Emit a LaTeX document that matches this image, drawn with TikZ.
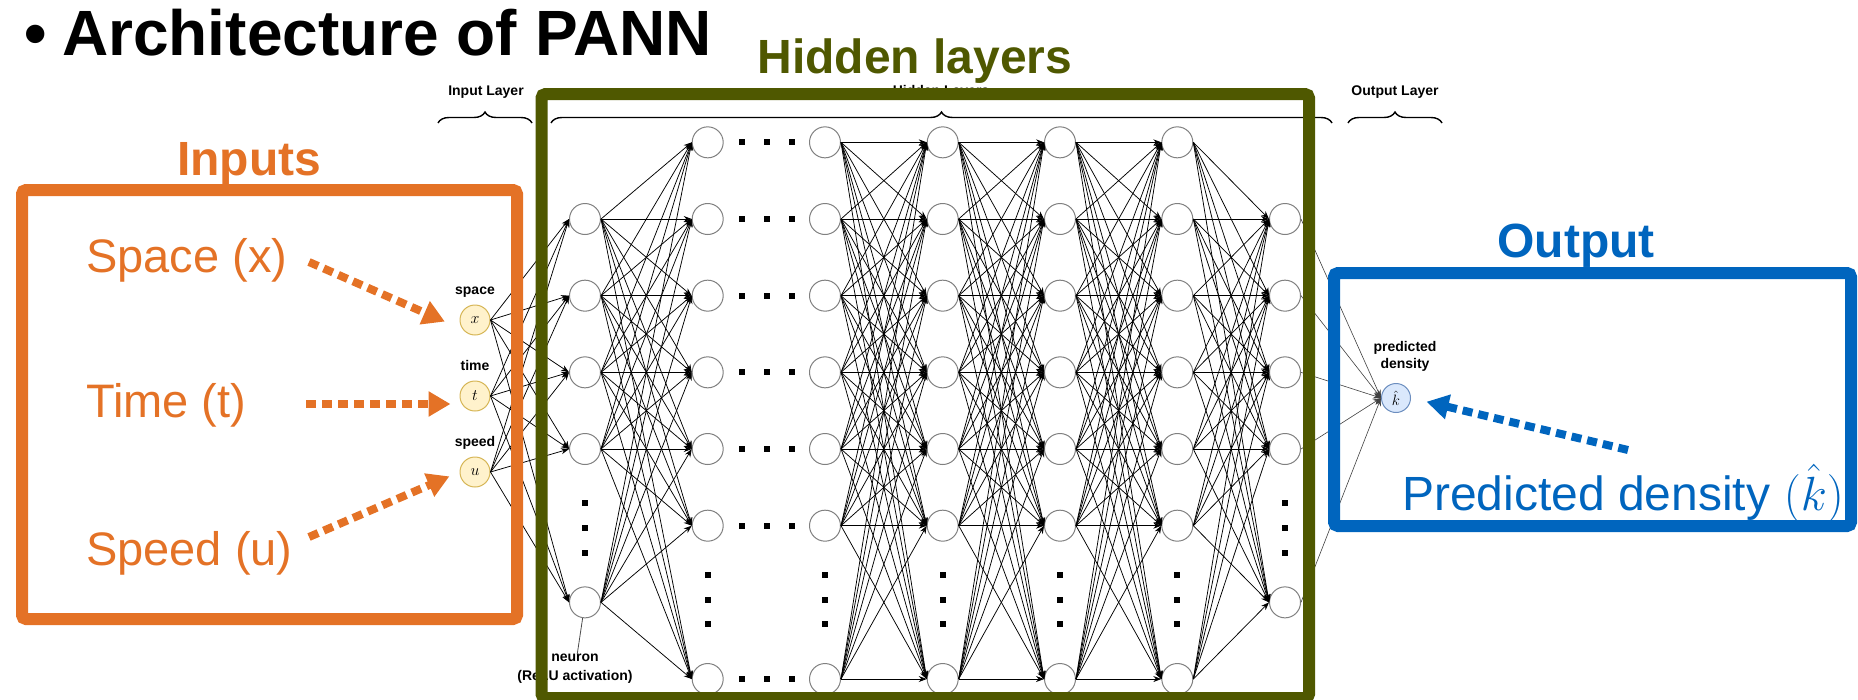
\RequirePackage{fix-cm}
\documentclass[tikz,border=0pt]{standalone}
\usepackage{fontspec}
\setmainfont{Liberation Sans}
\usetikzlibrary{arrows.meta,decorations.pathreplacing}

\definecolor{inorange}{RGB}{228,114,38}
\definecolor{hidolive}{RGB}{79,88,0}
\definecolor{outblue}{RGB}{0,101,190}
\definecolor{infill}{RGB}{255,242,204}
\definecolor{indraw}{RGB}{214,182,86}
\definecolor{outfill}{RGB}{218,232,252}
\definecolor{outdraw}{RGB}{108,142,191}

\begin{document}
\begin{tikzpicture}[x=1pt, y=-1pt,
  neuron/.style={circle, draw=black!50, fill=white, line width=1pt, minimum size=31pt, inner sep=0pt},
  innode/.style={circle, draw=indraw, fill=infill, line width=1pt, minimum size=30pt, inner sep=0pt, font=\fontsize{16}{16}\selectfont},
  outnode/.style={circle, draw=outdraw, fill=outfill, line width=1pt, minimum size=29pt, inner sep=0pt, font=\fontsize{15}{15}\selectfont},
  link/.style={line width=0.75pt, -{Stealth[length=8pt,width=6pt]}},
  tag/.style={font=\bfseries\fontsize{14}{17}\selectfont, align=center, inner sep=0pt},
  brace/.style={decorate, decoration={brace, amplitude=11pt}, line width=1.4pt},
  frame/.style={line width=12pt, rounded corners=4pt},
  hint/.style={line width=8pt, dash pattern=on 10pt off 6pt, -{Triangle[length=22pt,width=24pt]}},
  big/.style={font=\bfseries\fontsize{48}{56}\selectfont, anchor=base},
  say/.style={font=\fontsize{47}{56}\selectfont, anchor=base west, inner sep=0pt},
]

  \useasboundingbox (0,0) rectangle (1858,699);

  % Rows of the neurons
  \def\ytop{142.33}
  \def\ygap{76.67}

  % Title line
  \node[font=\bfseries\fontsize{64}{72}\selectfont, anchor=base] (bullet) at (36,55) {•};
  \node[font=\bfseries\fontsize{64}{72}\selectfont, anchor=base west, inner sep=0pt] (title) at (62,55) {Architecture of PANN};

  % Layer captions with braces
  \node[tag] (cap-in) at (486,92) {Input Layer};
  \node[tag] (cap-hid) at (941,92) {Hidden Layers};
  \node[tag] (cap-out) at (1395,92) {Output Layer};
  \draw[brace] (438,123) -- (532,123);
  \draw[brace] (551,123) -- (1332,123);
  \draw[brace] (1348,123) -- (1442,123);

  % Input neurons
  \node[innode] (in-x) at (475,320) {$x$};
  \node[innode] (in-t) at (475,396) {$t$};
  \node[innode] (in-u) at (475,472) {$u$};
  \node[tag, anchor=base] (lab-x) at (475,294) {space};
  \node[tag, anchor=base] (lab-t) at (475,370) {time};
  \node[tag, anchor=base] (lab-u) at (475,446) {speed};

  % Hidden neurons, wide layers
  \foreach \l/\x in {2/707.7, 3/825, 4/942.7, 5/1060, 6/1177.3} {
    \foreach \r in {0,1,2,3,4,5,7}
      \node[neuron] (n-\l-\r) at (\x, \ytop+\r*\ygap) {};
  }
  % Hidden neurons, first and last layer
  \foreach \l/\x in {1/585, 7/1285} {
    \foreach \r in {1,2,3,4,6}
      \node[neuron] (n-\l-\r) at (\x, \ytop+\r*\ygap) {};
  }

  % Output neuron
  \node[outnode] (out) at (1396,398) {$\hat{k}$};
  \node[tag] (lab-k) at (1405,356) {predicted\\density};

  % Neuron note
  \node[tag, font=\bfseries\fontsize{14}{19}\selectfont] (relu) at (575,669) {neuron\\(ReLU activation)};
  \draw[black!70, line width=0.8pt] (n-1-6) -- (relu);

  % Weights
  \foreach \a in {x,t,u}
    \foreach \b in {1,2,3,4,6}
      \draw[link] (in-\a.east) -- (n-1-\b.west);
  \foreach \a in {1,2,3,4,6}
    \foreach \b in {0,1,2,3,4,5,7}
      \draw[link] (n-1-\a.east) -- (n-2-\b.west);
  \foreach \l/\m in {3/4, 4/5, 5/6}
    \foreach \a in {0,1,2,3,4,5,7}
      \foreach \b in {0,1,2,3,4,5,7}
        \draw[link] (n-\l-\a.east) -- (n-\m-\b.west);
  \foreach \a in {0,1,2,3,4,5,7}
    \foreach \b in {1,2,3,4,6}
      \draw[link] (n-6-\a.east) -- (n-7-\b.west);
  \foreach \a in {1,2,3,4,6}
    \draw[link, line width=0.6pt, black!75] (n-7-\a.east) -- (out.west);

  % Skipped layers and neurons
  \foreach \r in {0,1,2,3,4,5,7}
    \foreach \x in {742,767,792}
      \fill (\x-3, \ytop+\r*\ygap-3) rectangle ++(6,6);
  \foreach \x in {707.7,825,942.7,1060,1177.3}
    \foreach \y in {575,600,624}
      \fill (\x-3, \y-3) rectangle ++(6,6);
  \foreach \x in {585,1285}
    \foreach \y in {503,528,553}
      \fill (\x-3, \y-3) rectangle ++(6,6);

  % Frames
  \draw[frame, inorange] (22,190) rectangle (517,619);
  \draw[frame, hidolive] (541.5,94) rectangle (1309,698);
  \draw[frame, outblue] (1334,273) rectangle (1851,526);

  % Frame titles
  \node[big, text=inorange] (inputs) at (249,175) {Inputs};
  \node[big, text=hidolive] (hidden) at (915,73) {Hidden layers};
  \node[big, text=outblue] (output) at (1576,257) {Output};

  % Variables
  \node[say, text=inorange] (space) at (86,272) {Space (x)};
  \node[say, text=inorange] (time) at (86,417) {Time (t)};
  \node[say, text=inorange] (speed) at (86,565) {Speed (u)};
  \coordinate (space-from) at (309,262);
  \coordinate (time-from) at (306,404);
  \coordinate (speed-from) at (309,537);
  \draw[hint, inorange, shorten >=16pt] (space-from) -- ([yshift=-8pt]in-x.west);
  \draw[hint, inorange, shorten >=9pt] (time-from) -- ([yshift=-8pt]in-t.west);
  \draw[hint, inorange, shorten >=11pt] (speed-from) -- (in-u.west);

  % Prediction
  \node[say, font=\fontsize{48}{56}\selectfont, text=outblue] (pred) at (1402,510) {Predicted density $(\hat{k})$};
  \coordinate (pred-from) at (1628,450);
  \draw[hint, outblue, shorten >=16pt] (pred-from) -- (out.east);

\end{tikzpicture}
\end{document}
